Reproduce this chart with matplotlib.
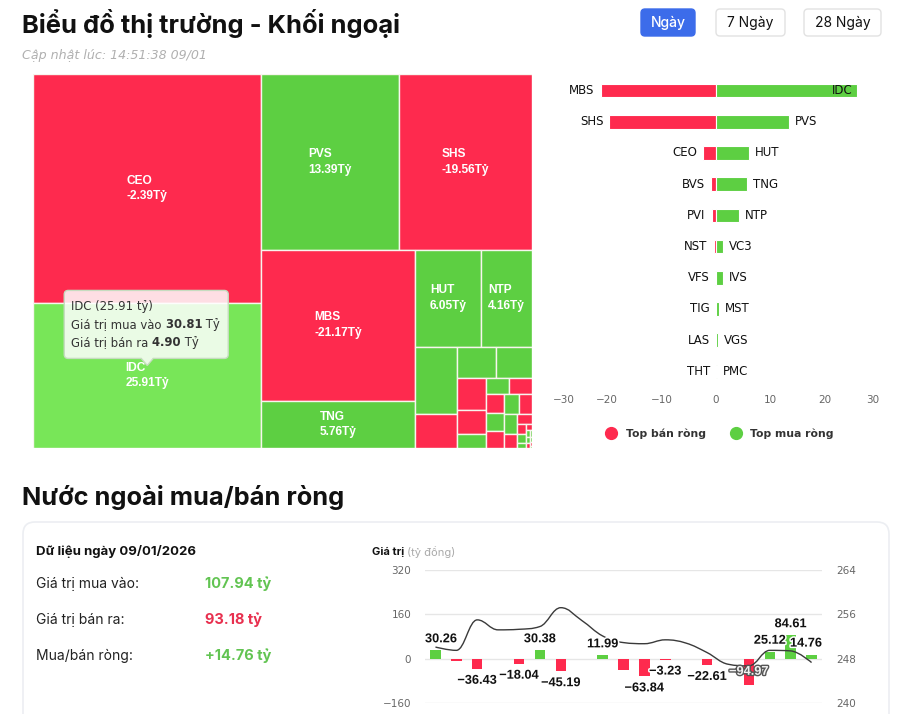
import numpy as np
import matplotlib
matplotlib.use('Agg')
import matplotlib.pyplot as plt
import matplotlib.patheffects as pe
from matplotlib.patches import Rectangle, FancyBboxPatch, PathPatch
from matplotlib.path import Path
from matplotlib.lines import Line2D

plt.rcParams['font.family'] = ['Inter', 'DejaVu Sans']

# ---------------- data ----------------
# treemap: size = total traded value (ty), net = net buy value (ty); only big tiles are labelled
tm_names = ['CEO', 'IDC', 'PVS', 'SHS', 'MBS', 'TNG', 'HUT', 'NTP'] + [''] * 28
tm_size = [56.3, 35.71, 26.0, 25.15, 25.1, 7.8, 6.9, 5.3,
           3.02, 1.54, 1.30, 1.18, 0.98, 0.73, 0.43, 0.41, 0.40, 0.39, 0.36, 0.34,
           0.32, 0.28, 0.27, 0.19, 0.17, 0.10, 0.09,
           0.05, 0.04, 0.03, 0.025, 0.02, 0.015, 0.01, 0.008, 0.005]
tm_net = [-2.39, 25.91, 13.39, -19.56, -21.17, 5.76, 6.05, 4.16,
          1.35, -1.0, 1.35, 0.6, -0.8, -0.45, 0.35, 0.15, -0.1, -0.05, 0.1, -0.03,
          0.08, -0.02, 0.05, -0.04, -0.03, -0.02, 0.02,
          0.01, -0.01, 0.01, 0.01, -0.01, 0.01, 0.01, -0.01, 0.01]
idc_buy = 30.81
idc_sell = 4.90

# top net sell / buy
sell_names = ['MBS', 'SHS', 'CEO', 'BVS', 'PVI', 'NST', 'VFS', 'TIG', 'LAS', 'THT']
sell_vals = [-21.17, -19.56, -2.39, -1.0, -0.8, -0.45, -0.1, -0.05, -0.03, -0.02]
buy_names = ['IDC', 'PVS', 'HUT', 'TNG', 'NTP', 'VC3', 'IVS', 'MST', 'VGS', 'PMC']
buy_vals = [25.91, 13.39, 6.05, 5.76, 4.16, 1.35, 1.35, 0.6, 0.35, 0.15]

# daily net flow (ty dong) and index line (right axis)
net_flow = [30.26, -8.2, -36.43, np.nan, -18.04, 30.38, -45.19, np.nan, 11.99, -39.5,
            -63.84, -3.23, -2.6, -22.61, np.nan, -94.97, 25.12, 84.61, 14.76]
index_line = [250.1, 249.5, 255.0, 253.2, 253.3, 253.8, 257.2, 254.9, 252.1, 250.9,
              250.7, 251.4, 250.8, 249.1, 247.0, 246.7, 249.5, 249.4, 247.3]

buy_total = 107.94
sell_total = 93.18
net_total = 14.76
data_date = '09/01/2026'
update_time = '14:51:38 09/01'
period_buttons = ['Ngày', '7 Ngày', '28 Ngày']

RED = '#FE2A4E'
GREEN = '#5DCF42'
GREEN_HOVER = '#78E658'
NARROW = ['Liberation Sans', 'DejaVu Sans']

W_PX, H_PX = 901, 714
fig = plt.figure(figsize=(W_PX / 100, H_PX / 100), dpi=100)
fig.patch.set_facecolor('white')


def px_axes(x0, y0, x1, y1, **kw):
    return fig.add_axes([x0 / W_PX, 1 - y1 / H_PX, (x1 - x0) / W_PX, (y1 - y0) / H_PX], **kw)


def rich_line(ax, x, y, parts, **kw):
    t = ax.text(x, y, parts[0][0], fontweight=parts[0][1], color=parts[0][2],
                va='center', ha='left', **kw)
    for s, wt, col in parts[1:]:
        t = ax.annotate(s, xy=(1, 0.5), xycoords=t, va='center', ha='left',
                        fontweight=wt, color=col, **kw)
    return t


bg = px_axes(0, 0, W_PX, H_PX)
bg.set_xlim(0, W_PX)
bg.set_ylim(H_PX, 0)
bg.axis('off')

# header
bg.text(22, 23, 'Biểu đồ thị trường - Khối ngoại', fontsize=18.4, fontweight='bold',
        va='center', color='#111111')
bg.text(22, 56, 'Cập nhật lúc: ' + update_time, fontsize=9.1, style='italic',
        family='DejaVu Sans', va='center', color='#b0b0b0')
for label, (x0, x1), active in zip(period_buttons, [(641, 695), (716, 785), (804, 881)],
                                   [True, False, False]):
    bg.add_patch(FancyBboxPatch((x0, 9), x1 - x0, 27, boxstyle='round,pad=0,rounding_size=4',
                                fc='#3C6CEA' if active else 'white',
                                ec='#3C6CEA' if active else '#e2e2e2', lw=1))
    bg.text((x0 + x1) / 2, 22.5, label, ha='center', va='center', fontsize=10,
            fontweight='medium' if active else 'normal',
            color='white' if active else '#111111')


# ---------------- treemap (Highcharts-like squarified layout) ----------------
def treemap_layout(values, W, H):
    tot = sum(values)
    areas = [v / tot * W * H for v in values]
    rects = []
    st = {'w': W, 'h': H, 'dir': 0, 'total': 0.0, 'nW': 0.0, 'lW': 0.0,
          'nH': 0.0, 'lH': 0.0, 'el': [], 'x': 0.0, 'y': 0.0}

    def ratio(a, b):
        return max(a / b, b / a)

    def add(p):
        last = st['el'][-1] if st['el'] else None
        st['total'] += p
        worse = False
        if st['dir'] == 0:
            st['lW'] = st['nW']
            st['nW'] = st['total'] / st['h']
            if last is not None:
                worse = ratio(st['nW'], last / st['nW']) > ratio(st['lW'], last / st['lW'])
        else:
            st['lH'] = st['nH']
            st['nH'] = st['total'] / st['w']
            if last is not None:
                worse = ratio(last / st['nH'], st['nH']) > ratio(last / st['lH'], st['lH'])
        st['el'].append(p)
        return worse

    def calc(last):
        if last:
            gW, gH, items = st['nW'], st['nH'], st['el']
        else:
            gW, gH, items = st['lW'], st['lH'], st['el'][:-1]
            keep = st['el'][-1]
        for p in items:
            if st['dir'] == 0:
                rects.append((st['x'], st['y'], gW, p / gW))
                st['y'] += p / gW
            else:
                rects.append((st['x'], st['y'], p / gH, gH))
                st['x'] += p / gH
        st['nW'] = st['lW'] = 0.0
        st['el'] = []
        st['total'] = 0.0
        if st['dir'] == 0:
            st['w'] -= gW
        else:
            st['h'] -= gH
        st['x'] = W - st['w']
        st['y'] = H - st['h']
        st['dir'] = 1 - st['dir']
        if not last:
            add(keep)

    for i, p in enumerate(areas):
        if add(p):
            calc(False)
        if i == len(areas) - 1:
            calc(True)
    return rects


TX0, TY0, TX1, TY1 = 33, 74, 532, 448
tm = px_axes(TX0, TY0, TX1, TY1)
TW, TH = TX1 - TX0, TY1 - TY0
tm.set_xlim(0, TW)
tm.set_ylim(TH, 0)
tm.axis('off')
rects = treemap_layout(tm_size, TW, TH)
for name, net, (x, y, w, h) in zip(tm_names, tm_net, rects):
    col = RED if net < 0 else (GREEN_HOVER if name == 'IDC' else GREEN)
    tm.add_patch(Rectangle((x, y), w, h, fc=col, ec='#f7f5ee', lw=1))
    if name:
        tm.text(x + w / 2, y + h / 2, f'{name}\n{net:.2f}Tỷ', ha='center', va='center',
                multialignment='left', color='white', fontsize=8.6, fontweight='bold',
                family=NARROW, linespacing=1.4)

# tooltip on IDC
ix, iy, iw, ih = rects[tm_names.index('IDC')]
tip_x, tip_y = ix + iw / 2, iy + ih / 2 - 10
bx0, bx1 = tip_x - 83, tip_x + 81
by1 = tip_y - 7
by0 = by1 - 68
r = 4
M, L, C3, CL = Path.MOVETO, Path.LINETO, Path.CURVE3, Path.CLOSEPOLY
verts = [(bx0 + r, by0), (bx1 - r, by0), (bx1, by0), (bx1, by0 + r),
         (bx1, by1 - r), (bx1, by1), (bx1 - r, by1),
         (tip_x + 6, by1), (tip_x, tip_y), (tip_x - 6, by1),
         (bx0 + r, by1), (bx0, by1), (bx0, by1 - r),
         (bx0, by0 + r), (bx0, by0), (bx0 + r, by0), (bx0 + r, by0)]
codes = [M, L, C3, C3, L, C3, C3, L, L, L, L, C3, C3, L, C3, C3, CL]
tm.add_patch(PathPatch(Path(verts, codes), fc=(1, 1, 1, 0.85), ec='#c6dcc0', lw=1, zorder=5))
tip_kw = dict(fontsize=8.4, family='DejaVu Sans', zorder=6)
rich_line(tm, bx0 + 7, by0 + 16.5, [(f'IDC ({tm_net[tm_names.index("IDC")]:.2f} tỷ)', 'normal', '#333333')], **tip_kw)
rich_line(tm, bx0 + 7, by0 + 34.5, [('Giá trị mua vào', 'normal', '#333333'),
                                     (f' {idc_buy:.2f}', 'bold', '#333333'),
                                     (' Tỷ', 'normal', '#333333')], **tip_kw)
rich_line(tm, bx0 + 7, by0 + 52.5, [('Giá trị bán ra', 'normal', '#333333'),
                                     (f' {idc_sell:.2f}', 'bold', '#333333'),
                                     (' Tỷ', 'normal', '#333333')], **tip_kw)

# ---------------- top net sell / buy bars ----------------
bc = px_axes(552.5, 75, 879.5, 387)
rows = np.arange(len(sell_names))
bc.barh(rows, sell_vals, height=0.43, color=RED, ec='white', lw=0.8)
bc.barh(rows, buy_vals, height=0.43, color=GREEN, ec='white', lw=0.8)
bc.set_xlim(-30, 30)
bc.set_ylim(len(rows) - 0.5, -0.5)
for s in bc.spines.values():
    s.set_visible(False)
bc.set_yticks([])
ticks = [-30, -20, -10, 0, 10, 20, 30]
bc.set_xticks(ticks)
bc.set_xticklabels([str(t).replace('-', '−') for t in ticks], family='DejaVu Sans',
                   fontsize=7.5, color='#666666')
bc.tick_params(axis='x', length=0, pad=6)
tl = bc.get_xticklabels()
tl[0].set_ha('left')
tl[-1].set_ha('right')
lbl_kw = dict(family='DejaVu Sans', fontsize=8.5, color='#111111', va='center',
              textcoords='offset pixels')
for i, (n, v) in enumerate(zip(sell_names, sell_vals)):
    bc.annotate(n, xy=(v, i), xytext=(-6, 0), ha='right', **lbl_kw)
for i, (n, v) in enumerate(zip(buy_names, buy_vals)):
    if v > 25:
        bc.annotate(n, xy=(v, i), xytext=(-5, 0), ha='right', **lbl_kw)
    else:
        bc.annotate(n, xy=(v, i), xytext=(6, 0), ha='left', **lbl_kw)
handles = [Line2D([], [], ls='none', marker='o', ms=8.5, mfc=RED, mec=RED),
           Line2D([], [], ls='none', marker='o', ms=8.5, mfc=GREEN, mec=GREEN)]
leg = bc.legend(handles, ['Top bán ròng', 'Top mua ròng'], loc='center', ncol=2,
                bbox_to_anchor=(717 / W_PX, 1 - 434 / H_PX), bbox_transform=fig.transFigure,
                frameon=False, handletextpad=0.3, columnspacing=1.8,
                prop={'family': 'DejaVu Sans', 'weight': 'bold', 'size': 7.8})
for t in leg.get_texts():
    t.set_color('#333333')

# ---------------- section 2 ----------------
bg.text(22, 497, 'Nước ngoài mua/bán ròng', fontsize=18.3, fontweight='bold',
        va='center', color='#111111')
bg.add_patch(FancyBboxPatch((23, 522), 866, 240, boxstyle='round,pad=0,rounding_size=12',
                            fc='white', ec='#eceef2', lw=1.2))
bg.text(36, 551, 'Dữ liệu ngày ' + data_date, fontsize=9.5, fontweight='bold',
        va='center', color='#111111')
for (lab, val, col), y in zip([('Giá trị mua vào:', f'{buy_total:.2f} tỷ', '#62C452'),
                               ('Giá trị bán ra:', f'{sell_total:.2f} tỷ', '#E8304F'),
                               ('Mua/bán ròng:', f'{net_total:+.2f} tỷ', '#62C452')],
                              [584, 620, 656]):
    bg.text(36, y, lab, fontsize=10, va='center', color='#222222')
    bg.text(205, y, val, fontsize=10.5, fontweight='bold', va='center', color=col)
rich_line(bg, 372, 552, [('Giá trị', 'bold', '#111111'), (' (tỷ đồng)', 'normal', '#aaaaaa')],
          fontsize=8)

# ---------------- net flow chart ----------------
ch = px_axes(425, 570, 822, 703)
x = np.arange(len(net_flow))
flow = np.array(net_flow)
ch.bar(x, flow, width=0.5, color=[GREEN if v >= 0 else RED for v in np.nan_to_num(flow)], zorder=2)
ch.set_xlim(-0.5, len(x) - 0.5)
ch.set_ylim(-160, 320)
ch.set_yticks([-160, 0, 160, 320])
ch.grid(axis='y', color='#e6e6e6', lw=1)
ch.set_axisbelow(True)
ch.set_xticks([])
for s in ch.spines.values():
    s.set_visible(False)
ch.tick_params(axis='y', length=0, pad=10, labelsize=7.5, labelcolor='#666666')
for t in ch.get_yticklabels():
    t.set_family('DejaVu Sans')

ch2 = ch.twinx()
ch2.set_ylim(240, 264)
ch2.set_yticks([240, 248, 256, 264])
for s in ch2.spines.values():
    s.set_visible(False)
ch2.tick_params(axis='y', length=0, pad=10, labelsize=7.5, labelcolor='#666666')
for t in ch2.get_yticklabels():
    t.set_family('DejaVu Sans')


def spline_path(xs, ys):
    s = 1.5
    d = s + 1
    n = len(xs)
    lc = [None] * n
    rc = [None] * n
    for i in range(1, n - 1):
        px_, py_ = xs[i], ys[i]
        lx, ly = xs[i - 1], ys[i - 1]
        nx, ny = xs[i + 1], ys[i + 1]
        lcx, lcy = (s * px_ + lx) / d, (s * py_ + ly) / d
        rcx, rcy = (s * px_ + nx) / d, (s * py_ + ny) / d
        corr = (rcy - lcy) * (rcx - px_) / (rcx - lcx) + py_ - rcy
        lcy += corr
        rcy += corr
        if lcy > ly and lcy > py_:
            lcy = max(ly, py_); rcy = 2 * py_ - lcy
        elif lcy < ly and lcy < py_:
            lcy = min(ly, py_); rcy = 2 * py_ - lcy
        if rcy > ny and rcy > py_:
            rcy = max(ny, py_); lcy = 2 * py_ - rcy
        elif rcy < ny and rcy < py_:
            rcy = min(ny, py_); lcy = 2 * py_ - rcy
        lc[i] = (lcx, lcy)
        rc[i] = (rcx, rcy)
    v = [(xs[0], ys[0])]
    c = [Path.MOVETO]
    for i in range(1, n):
        v += [rc[i - 1] or (xs[i - 1], ys[i - 1]), lc[i] or (xs[i], ys[i]), (xs[i], ys[i])]
        c += [Path.CURVE4] * 3
    return Path(v, c)


ch2.add_patch(PathPatch(spline_path(list(x), index_line), fill=False, ec='#3a3a3a', lw=1.0, zorder=3))

# data labels: bigger bars first, hide overlapping ones, keep inside plot
fig.canvas.draw()
renderer = fig.canvas.get_renderer()
axbb = ch.get_window_extent(renderer)
shown = []
lab_kw = dict(textcoords='offset pixels', ha='center', fontsize=9.2, fontweight='bold',
              family=NARROW, zorder=6, annotation_clip=False)
order = sorted([i for i in x if not np.isnan(flow[i])], key=lambda i: -abs(flow[i]))
for i in order:
    v = flow[i]
    txt = f'{v:.2f}'.replace('-', '−')
    if v >= 0:
        t = ch2.annotate(txt, xy=(i, v), xycoords=ch.transData, xytext=(0, 5), va='bottom',
                         color='#111111', path_effects=[pe.withStroke(linewidth=2.2, foreground='white')],
                         **lab_kw)
    else:
        t = ch2.annotate(txt, xy=(i, v), xycoords=ch.transData, xytext=(0, -6), va='top',
                         color='#111111', path_effects=[pe.withStroke(linewidth=2.2, foreground='white')],
                         **lab_kw)
    bb = t.get_window_extent(renderer)
    if bb.y0 - 4 < axbb.y0:
        t.remove()
        t = ch2.annotate(txt, xy=(i, v / 2), xycoords=ch.transData, xytext=(0, 0), va='center',
                         color='#f2f2f2', path_effects=[pe.withStroke(linewidth=2, foreground='#555555')],
                         **lab_kw)
        bb = t.get_window_extent(renderer)
    dx = 0
    if bb.x1 > axbb.x1:
        dx = axbb.x1 - bb.x1
    elif bb.x0 < axbb.x0:
        dx = axbb.x0 - bb.x0
    if dx:
        ox, oy = t.xyann
        t.xyann = (ox + dx, oy)
        bb = t.get_window_extent(renderer)
    test = bb.expanded(0.9, 0.9)
    if any(test.overlaps(b) for b in shown):
        t.remove()
    else:
        shown.append(test)

fig.savefig('out.png', dpi=100, facecolor='white')
